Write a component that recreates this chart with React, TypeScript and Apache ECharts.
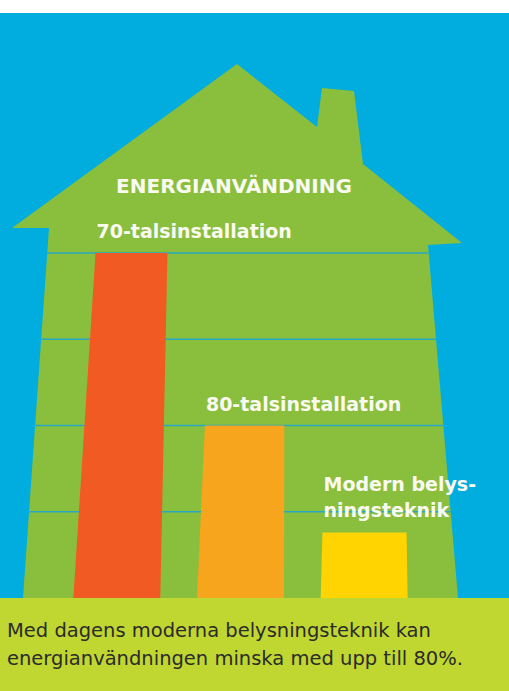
import React, { useEffect, useRef } from "react";
import * as echarts from "echarts";

// ---- data ----
const categories = ["70-talsinstallation", "80-talsinstallation", "Modern belys-\nningsteknik"];
const energyValues = [100, 50, 19];
const gridTicks = [25, 50, 75, 100];
const titleText = "ENERGIANVÄNDNING";
const footnoteLines = [
  "Med dagens moderna belysningsteknik kan",
  "energianvändningen minska med upp till 80%.",
];

// ---- styles ----
const BLUE = "#00ADDE";
const GREEN = "#8ABF3E";
const LIME = "#BFD730";
const LINE = "#26A8C0";
const BAR_COLORS = ["#F15A22", "#F6A51D", "#FFD400"];
const LABEL_FONT = 'bold 19px "DejaVu Sans", sans-serif';

// house decoration (pixel geometry)
const HOUSE = [
  [237, 64], [317, 127], [322, 88], [354, 91], [363, 164], [462, 243],
  [428, 245], [458, 598], [23, 598], [49, 228], [12, 228],
];
const xLeft = (y: number) => 23 + (49 - 23) * (598 - y) / (598 - 228);
const xRight = (y: number) => 458 - (458 - 428) * (598 - y) / (598 - 245);
// bar perspective styling
const VX = 400;
const KC = 0.00015;
const KW = 0.0005;

export default function App() {
  const ref = useRef<HTMLDivElement>(null);
  useEffect(() => {
    document.body.style.margin = "0";
    const chart = echarts.init(ref.current!, null, { renderer: "svg" });
    chart.setOption({
      animation: false,
      backgroundColor: "#ffffff",
      grid: { left: 55, right: 83, top: 253, bottom: 93 },
      xAxis: { type: "category", data: categories, show: false },
      yAxis: { type: "value", min: 0, max: 100, interval: 25, show: false },
      graphic: [
        { type: "rect", shape: { x: 0, y: 13, width: 509, height: 585 }, style: { fill: BLUE } },
        { type: "polygon", shape: { points: HOUSE }, style: { fill: GREEN } },
        { type: "rect", shape: { x: 0, y: 598, width: 509, height: 93 }, style: { fill: LIME } },
        {
          type: "text", x: 234, y: 186,
          style: { text: titleText, fill: "#FAFAF2", font: 'bold 20px "DejaVu Sans", sans-serif', align: "center", verticalAlign: "middle" },
        },
        {
          type: "text", x: 7, y: 644,
          style: {
            text: footnoteLines.join("\n"), fill: "#2B2B2B", font: '19.5px "DejaVu Sans", sans-serif',
            lineHeight: 28, align: "left", verticalAlign: "middle",
          },
        },
      ],
      series: [
        {
          type: "custom",
          z: 2,
          data: gridTicks.map((v) => [0, v]),
          encode: { x: 0, y: 1 },
          renderItem: (params: any, api: any) => {
            const y = api.coord([0, api.value(1)])[1];
            return {
              type: "line",
              shape: { x1: xLeft(y), y1: y, x2: xRight(y), y2: y },
              style: { stroke: LINE, lineWidth: 1.5 },
            };
          },
        },
        {
          type: "custom",
          z: 3,
          data: energyValues.map((v, i) => [i, v]),
          encode: { x: 0, y: 1 },
          renderItem: (params: any, api: any) => {
            const i = api.value(0);
            const v = api.value(1);
            const [cx, by] = api.coord([i, 0]);
            const ty = api.coord([i, v])[1];
            const h = by - ty;
            const w = api.size([1, 0])[0] * 0.703;
            const ct = cx + (VX - cx) * KC * h;
            const wt = w * (1 - KW * h);
            const tl = ct - wt / 2;
            const tr = ct + wt / 2;
            return {
              type: "group",
              children: [
                {
                  type: "polygon",
                  shape: { points: [[cx - w / 2, by], [cx + w / 2, by], [tr, ty], [tl, ty]] },
                  style: { fill: BAR_COLORS[params.dataIndex] },
                },
                {
                  type: "text",
                  x: tl + 1,
                  y: ty - 9,
                  style: {
                    text: categories[params.dataIndex],
                    fill: "#FAFAF2",
                    font: LABEL_FONT,
                    lineHeight: 26,
                    align: "left",
                    verticalAlign: "bottom",
                  },
                },
              ],
            };
          },
        },
      ],
    });
    return () => chart.dispose();
  }, []);
  return <div ref={ref} style={{ width: 509, height: 691 }} />;
}
